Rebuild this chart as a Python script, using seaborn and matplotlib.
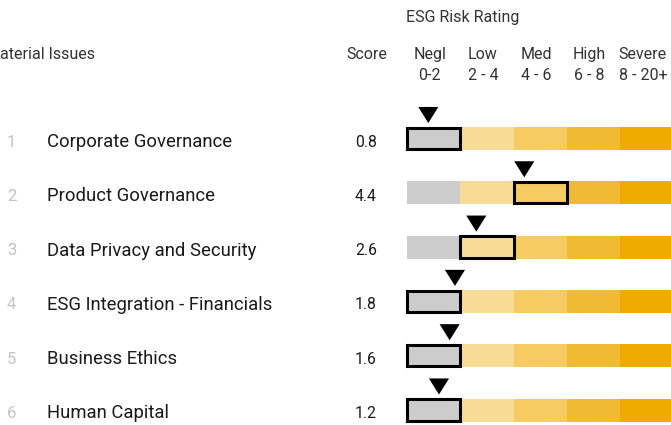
import matplotlib
matplotlib.use("Agg")
import matplotlib.pyplot as plt
import seaborn as sns
import pandas as pd

# --- data ---
issues = ["Corporate Governance", "Product Governance", "Data Privacy and Security",
          "ESG Integration - Financials", "Business Ethics", "Human Capital"]
scores = [0.8, 4.4, 2.6, 1.8, 1.6, 1.2]
band_names = ["Negl", "Low", "Med", "High", "Severe"]
band_ranges = ["0-2", "2 - 4", "4 - 6", "6 - 8", "8 - 20+"]
band_edges = [0, 2, 4, 6, 8, 10]
band_colors = ["#cccccc", "#f8dc96", "#f5cb62", "#f0bb32", "#efab00"]

df = pd.DataFrame({"issue": issues, "score": scores, "row": range(len(issues))})

# --- layout helpers (pixel -> data) ---
W, H = 671, 425
X0, PX_UNIT = 407, 26.65      # pixel of score 0, pixels per score unit
Y0, PX_ROW = 138.5, 54.3      # pixel of first row centre, pixels per row


def px_x(px):
    return (px - X0) / PX_UNIT


def px_y(py):
    return (py - Y0) / PX_ROW


sns.set_theme(style="white")
plt.rcParams["font.family"] = ["Roboto", "DejaVu Sans"]

fig = plt.figure(figsize=(W / 100, H / 100), dpi=100)
ax = fig.add_axes([0, 0, 1, 1])
ax.set_xlim(px_x(0), px_x(W))
ax.set_ylim(px_y(H), px_y(0))
ax.axis("off")

bar_h = 23 / PX_ROW

# risk bands for every row
for i in range(len(band_names)):
    left = band_edges[i]
    width = band_edges[i + 1] - band_edges[i]
    ax.barh(df["row"], width, left=left, height=bar_h, color=band_colors[i], linewidth=0)

# outline the band that holds each score
for _, r in df.iterrows():
    b = min(int(r["score"] // 2), len(band_names) - 1)
    ax.barh(r["row"], band_edges[b + 1] - band_edges[b], left=band_edges[b], height=bar_h - 0.03,
            color=band_colors[b], edgecolor="black", linewidth=2.2, zorder=3)

# score markers
tri = [(-1, 0.8), (1, 0.8), (0, -0.8)]
df["marker_y"] = df["row"] - 23.5 / PX_ROW
sns.scatterplot(data=df, x="score", y="marker_y", marker=tri, s=210, color="black",
                edgecolor="none", ax=ax, legend=False, zorder=4)

# row text
txt_off = 3.5 / PX_ROW
for _, r in df.iterrows():
    y = r["row"] + txt_off
    ax.text(px_x(7), y, str(r["row"] + 1), fontsize=12, color="#c4c4c4", va="center", ha="left")
    ax.text(px_x(47), y, r["issue"], fontsize=13.3, color="#1a1a1a", va="center", ha="left")
    ax.text(px_x(366), y, f"{r['score']:.1f}", fontsize=11.3, color="#1a1a1a", va="center", ha="center")

# headers
hdr = dict(fontsize=11.5, color="#333333", va="center")
ax.text(px_x(463), px_y(17), "ESG Risk Rating", ha="center", **hdr)
ax.text(px_x(-14.5), px_y(54), "Material Issues", ha="left", **hdr)
ax.text(px_x(367), px_y(54), "Score", ha="center", **hdr)
for i, (name, rng) in enumerate(zip(band_names, band_ranges)):
    cx = (band_edges[i] + band_edges[i + 1]) / 2 - 4 / PX_UNIT
    ax.text(cx, px_y(54), name, ha="center", **hdr)
    ax.text(cx, px_y(75), rng, ha="center", **hdr)

fig.savefig("out.png", dpi=100)
